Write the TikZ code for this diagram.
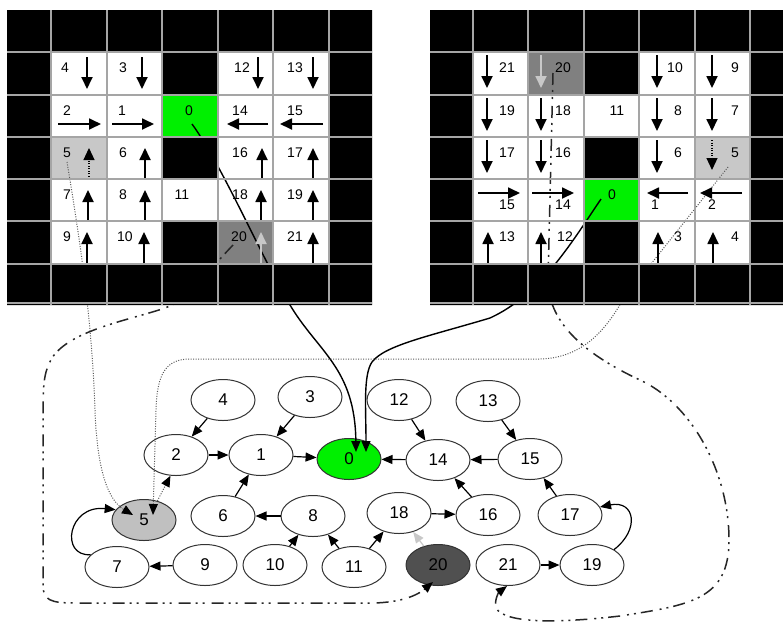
\documentclass[tikz,border=0pt]{standalone}
\usepackage{fontspec}
\setmainfont{Liberation Sans}
\usetikzlibrary{arrows.meta,shapes.geometric,calc}
\definecolor{cgreen}{RGB}{0,240,0}
\definecolor{clight}{RGB}{200,200,200}
\definecolor{cdark}{RGB}{128,128,128}
\definecolor{cnodefive}{RGB}{192,192,192}
\definecolor{cnodetwenty}{RGB}{80,80,80}
\definecolor{cgrid}{RGB}{165,165,165}
\begin{document}
\begin{tikzpicture}[x=1pt,y=-1pt,
 garrow/.style={line width=1.8pt,-{Triangle[length=12pt,width=11pt]}},
 glab/.style={inner sep=0pt,font=\fontsize{14}{15}\selectfont},
 gnode/.style={ellipse,draw=black!80,line width=1pt,minimum width=64pt,minimum height=41pt,inner sep=0pt,fill=white,font=\fontsize{17}{18}\selectfont},
 edge/.style={line width=1.2pt,-{Triangle[length=11pt,width=9pt,color=black]}},
 dotline/.style={draw=black!65,line width=1pt,dash pattern=on 1pt off 1.5pt},
 ddline/.style={draw=black!85,line width=1.5pt,dash pattern=on 12pt off 5pt on 2pt off 5pt on 2pt off 7pt},
 cable/.style={line width=1.4pt,-{Triangle[length=11pt,width=9pt,color=black]}}
]
\fill[white] (0,0) rectangle (783,622);
\useasboundingbox (0,0) rectangle (783,622);

% coloured cells
\fill[cgreen] (162,95) rectangle (218,137);
\fill[clight] (51,137) rectangle (107,179);
\fill[cdark] (218,221) rectangle (273,264);
\fill[cgreen] (584,179) rectangle (639,221);
\fill[clight] (695,137) rectangle (750,179);
\fill[cdark] (528,52) rectangle (584,95);

% graph nodes
\node[gnode] (n4) at (223,400) {4};
\node[gnode] (n3) at (310,397) {3};
\node[gnode] (n2) at (176,455) {2};
\node[gnode] (n1) at (261,455) {1};
\node[gnode,fill=cgreen] (n0) at (349,459) {0};
\node[gnode,fill=cnodefive] (n5) at (144,520) {5};
\node[gnode] (n6) at (223,516) {6};
\node[gnode] (n8) at (313,516) {8};
\node[gnode] (n7) at (117,567) {7};
\node[gnode] (n9) at (205,565) {9};
\node[gnode] (n10) at (275,565) {10};
\node[gnode] (n11) at (354,567) {11};
\node[gnode] (n12) at (399,400) {12};
\node[gnode] (n13) at (488,401) {13};
\node[gnode] (n14) at (438,460) {14};
\node[gnode] (n15) at (530,459) {15};
\node[gnode] (n18) at (399,513) {18};
\node[gnode] (n16) at (488,515) {16};
\node[gnode] (n17) at (570,515) {17};
\node[gnode,fill=cnodetwenty] (n20) at (438,565) {20};
\node[gnode] (n21) at (508,565) {21};
\node[gnode] (n19) at (592,565) {19};

% graph edges
\draw[edge] (n4) -- (n2);
\draw[edge] (n3) -- (n1);
\draw[edge] (n2) -- (n1);
\draw[edge] (n1) -- (n0);
\draw[edge] (n6) -- (n1);
\draw[edge] (n8) -- (n6);
\draw[edge] (n10) -- (n8);
\draw[edge] (n11) -- (n8);
\draw[edge] (n11) -- (n18);
\draw[edge] (n9) -- (n7);
\draw[edge] (n12) -- (n14);
\draw[edge] (n13) -- (n15);
\draw[edge] (n15) -- (n14);
\draw[edge] (n14) -- (n0);
\draw[edge] (n16) -- (n14);
\draw[edge] (n17) -- (n15);
\draw[edge] (n18) -- (n16);
\draw[edge] (n21) -- (n19);
\draw[line width=1.2pt,clight,-{Triangle[length=11pt,width=9pt]}] (n20) -- (n18);
\draw[edge,dotline] (n5.55) -- (n2.255);
\draw[edge] (n7.155) .. controls +(-31,2) and +(-48,-5) .. (n5.160);
\draw[edge] (n19.35) .. controls +(26,-20) and +(35,-7) .. (n17.15);

% connector end points
\coordinate (sL0) at (192,124);
\coordinate (sR0) at (601,199);
\coordinate (sL5) at (67,162);
\coordinate (sR5) at (728,167);
\coordinate (sL20) at (233,245);
\coordinate (sR20) at (553,73);
\coordinate (e0a) at ($(n0)+(7,-7)$);
\coordinate (e0b) at ($(n0)+(17,-7)$);
\coordinate (e5a) at ($(n5)+(-11,-5)$);
\coordinate (e5b) at ($(n5)+(9,-5)$);
\coordinate (e20) at ($(n20)+(-5,17)$);
\coordinate (e21) at ($(n21)+(-1,21)$);

% long connectors
\draw[cable] (sL0) .. controls (222,165) and (262,258) .. (290,305)
  .. controls (318,352) and (355,368) .. (e0a);
\draw[cable] (sR0) .. controls (570,245) and (540,295) .. (490,318)
  .. controls (430,336) and (385,345) .. (372,362)
  .. controls (363,375) and (366,410) .. (e0b);
\draw[edge,dotline] (sL5) .. controls (80,240) and (92,320) .. (95,410)
  .. controls (97,470) and (108,500) .. (e5a);
\draw[edge,dotline] (sR5) -- (624,298) .. controls (612,318) and (590,358) .. (540,359)
  -- (190,359) .. controls (165,359) and (157,375) .. (156,410) -- (e5b);
\draw[edge,ddline] (sL20) .. controls (195,285) and (190,298) .. (165,308)
  .. controls (130,320) and (70,330) .. (52,358)
  .. controls (45,370) and (43,380) .. (43,410) -- (43,585)
  .. controls (43,600) and (50,603) .. (75,603) -- (370,603)
  .. controls (405,603) and (420,593) .. (e20);
\draw[edge,ddline] (sR20) -- (548,280) .. controls (548,320) and (580,352) .. (640,380)
  .. controls (690,403) and (729,470) .. (729,540)
  .. controls (729,600) and (690,605) .. (620,616)
  .. controls (560,623) and (505,624) .. (496,608)
  .. controls (494,600) and (499,592) .. (e21);

% left grid arrows
\draw[garrow] (87,57) -- (87,89);
\draw[garrow] (142,57) -- (142,89);
\draw[garrow] (258,57) -- (258,89);
\draw[garrow] (313,57) -- (313,89);
\draw[garrow] (58,124) -- (101,124);
\draw[garrow] (112,124) -- (154,124);
\draw[garrow] (268,124) -- (227,124);
\draw[garrow] (323,124) -- (280,124);
\draw[garrow,dash pattern=on 1pt off 1.5pt,line width=1.2pt] (89,179) -- (89,148);
\draw[garrow] (145,179) -- (145,148);
\draw[garrow] (262,179) -- (262,148);
\draw[garrow] (313,179) -- (313,148);
\draw[garrow] (88,221) -- (88,190);
\draw[garrow] (145,221) -- (145,190);
\draw[garrow] (261,221) -- (261,190);
\draw[garrow] (313,221) -- (313,190);
\draw[garrow] (87,264) -- (87,232);
\draw[garrow] (144,264) -- (144,232);
\draw[garrow,clight] (261,264) -- (261,232);
\draw[garrow] (313,264) -- (313,232);

% left grid labels
\node[glab] (L4) at (65,68) {4};
\node[glab] (L3) at (123,68) {3};
\node[glab] (L12) at (242,68) {12};
\node[glab] (L13) at (295,68) {13};
\node[glab] (L2) at (67,111) {2};
\node[glab] (L1) at (122,111) {1};
\node[glab] (L0) at (189,111) {0};
\node[glab] (L14) at (240,111) {14};
\node[glab] (L15) at (295,111) {15};
\node[glab] (L5) at (67,153) {5};
\node[glab] (L6) at (123,153) {6};
\node[glab] (L16) at (240,153) {16};
\node[glab] (L17) at (295,153) {17};
\node[glab] (L7) at (67,195) {7};
\node[glab] (L8) at (123,195) {8};
\node[glab] (L11) at (182,195) {11};
\node[glab] (L18) at (240,195) {18};
\node[glab] (L19) at (295,195) {19};
\node[glab] (L9) at (67,237) {9};
\node[glab] (L10) at (125,237) {10};
\node[glab] (L20) at (239,237) {20};
\node[glab] (L21) at (295,237) {21};

% right grid arrows
\draw[garrow] (487,55) -- (487,88);
\draw[garrow,clight] (541,55) -- (541,88);
\draw[garrow] (657,55) -- (657,88);
\draw[garrow] (712,55) -- (712,88);
\draw[garrow] (487,98) -- (487,131);
\draw[garrow] (541,98) -- (541,131);
\draw[garrow] (657,98) -- (657,131);
\draw[garrow] (712,98) -- (712,131);
\draw[garrow] (487,140) -- (487,173);
\draw[garrow] (541,140) -- (541,173);
\draw[garrow] (657,140) -- (657,173);
\draw[garrow,dash pattern=on 1pt off 1.5pt,line width=1.2pt] (712,140) -- (712,170);
\draw[garrow] (478,193) -- (520,193);
\draw[garrow] (532,193) -- (574,193);
\draw[garrow] (688,193) -- (647,193);
\draw[garrow] (742,193) -- (700,193);
\draw[garrow] (488,264) -- (488,232);
\draw[garrow] (541,264) -- (541,232);
\draw[garrow] (658,264) -- (658,232);
\draw[garrow] (713,264) -- (713,232);

% right grid labels
\node[glab] (R21) at (507,68) {21};
\node[glab] (R20) at (563,68) {20};
\node[glab] (R10) at (675,68) {10};
\node[glab] (R9) at (735,68) {9};
\node[glab] (R19) at (507,111) {19};
\node[glab] (R18) at (563,111) {18};
\node[glab] (R11) at (617,111) {11};
\node[glab] (R8) at (678,111) {8};
\node[glab] (R7) at (735,111) {7};
\node[glab] (R17) at (507,153) {17};
\node[glab] (R16) at (563,153) {16};
\node[glab] (R6) at (678,153) {6};
\node[glab] (R5) at (735,153) {5};
\node[glab] (R15) at (507,205) {15};
\node[glab] (R14) at (563,205) {14};
\node[glab] (R0) at (612,195) {0};
\node[glab] (R1) at (655,205) {1};
\node[glab] (R2) at (712,205) {2};
\node[glab] (R13) at (507,237) {13};
\node[glab] (R12) at (565,237) {12};
\node[glab] (R3) at (678,237) {3};
\node[glab] (R4) at (735,237) {4};

% black cells
\fill[black,even odd rule] (7,10) rectangle (372,305) (51,52) rectangle (329,264);
\fill[black] (162,52) rectangle (218,95);
\fill[black] (162,137) rectangle (218,179);
\fill[black] (162,221) rectangle (218,264);
\fill[black,even odd rule] (430,10) rectangle (783,305) (473,52) rectangle (750,264);
\fill[black] (584,52) rectangle (639,95);
\fill[black] (584,137) rectangle (639,179);
\fill[black] (584,221) rectangle (639,264);

% grid lines
\foreach \x in {51,107,162,218,273,329} \draw[cgrid,line width=1.2pt] (\x,10) -- (\x,305);
\foreach \y in {52,95,137,179,221,264,303} \draw[cgrid,line width=1.2pt] (7,\y) -- (372,\y);
\foreach \x in {473,528,584,639,695,750} \draw[cgrid,line width=1.2pt] (\x,10) -- (\x,305);
\foreach \y in {52,95,137,179,221,264,303} \draw[cgrid,line width=1.2pt] (430,\y) -- (783,\y);
\end{tikzpicture}
\end{document}
